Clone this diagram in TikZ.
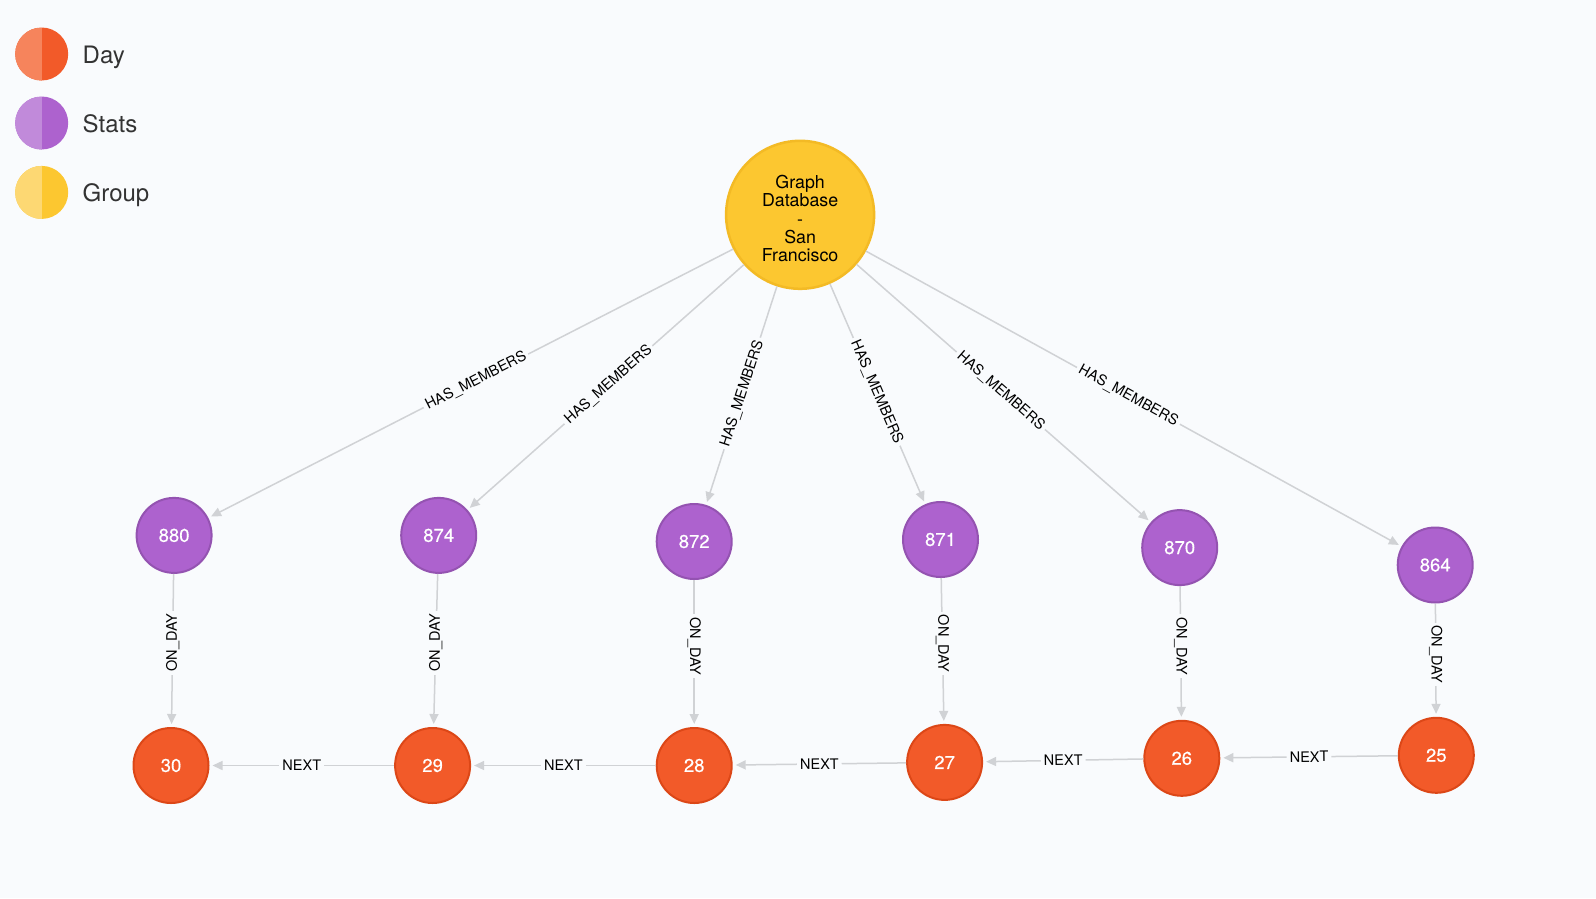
\documentclass[tikz,border=0pt]{standalone}
\usepackage{fontspec}
\setmainfont{TeX Gyre Heros}
\usetikzlibrary{arrows.meta}
\definecolor{bg}{HTML}{F9FBFD}
\definecolor{dayfill}{HTML}{F25A29}
\definecolor{dayline}{HTML}{DC4717}
\definecolor{dayL}{HTML}{F6845C}
\definecolor{statsfill}{HTML}{AD62CE}
\definecolor{statsline}{HTML}{9453B1}
\definecolor{statsL}{HTML}{C18ADA}
\definecolor{groupfill}{HTML}{FCC730}
\definecolor{groupline}{HTML}{F3BA25}
\definecolor{groupL}{HTML}{FDD873}
\definecolor{edgec}{HTML}{D0D2D5}
\definecolor{legtext}{HTML}{333333}
\begin{document}
\begin{tikzpicture}[x=1pt,y=-1pt,
  day/.style={circle,fill=dayfill,draw=dayline,line width=2pt,minimum size=75pt,inner sep=0pt,text=white,font=\fontsize{18.5}{20}\selectfont\addfontfeature{FakeBold=0.4}},
  stats/.style={circle,fill=statsfill,draw=statsline,line width=2pt,minimum size=75pt,inner sep=0pt,text=white,font=\fontsize{18.5}{20}\selectfont\addfontfeature{FakeBold=0.4}},
  group/.style={circle,fill=groupfill,draw=groupline,line width=2.5pt,minimum size=148pt,inner sep=0pt},
  grouptext/.style={align=center,text=black,inner sep=0pt,font=\fontsize{17.8}{18.4}\selectfont},
  rel/.style={draw=edgec,line width=1.5pt,-{Triangle[length=10pt,width=9pt]},shorten >=3pt},
  lbl/.style={fill=bg,inner sep=3pt,text=black,font=\fontsize{14.5}{16}\selectfont},
  legc/.style={circle,minimum size=53pt,inner sep=0pt},
  legt/.style={anchor=base west,text=legtext,font=\fontsize{24}{26}\selectfont,inner sep=0pt},
]
\fill[bg] (0,0) rectangle (1596,898);
\useasboundingbox (0,0) rectangle (1596,898);

% legend
\node[legc,fill=dayfill,path picture={\fill[dayL] (path picture bounding box.north west) rectangle (path picture bounding box.south);}] (legday) at (41.7,54) {};
\node[legc,fill=statsfill,path picture={\fill[statsL] (path picture bounding box.north west) rectangle (path picture bounding box.south);}] (legstats) at (41.7,123) {};
\node[legc,fill=groupfill,path picture={\fill[groupL] (path picture bounding box.north west) rectangle (path picture bounding box.south);}] (leggroup) at (41.7,192.4) {};
\node[legt] (legdayt) at (82.5,63) {Day};
\node[legt] (legstatst) at (82.5,132) {Stats};
\node[legt] (leggroupt) at (82.5,201) {Group};

% nodes
\node[group] (g) at (800.1,214.8) {};
\node[grouptext] (gt) at (800.1,218.6) {Graph\\Database\\-\\San\\Francisco};
\node[stats] (s880) at (174.1,535.4) {880};
\node[stats] (s874) at (438.7,535.4) {874};
\node[stats] (s872) at (694.2,541.5) {872};
\node[stats] (s871) at (940.5,539.5) {871};
\node[stats] (s870) at (1179.7,547.6) {870};
\node[stats] (s864) at (1435.2,565.0) {864};
\node[day] (d30) at (171.0,765.5) {30};
\node[day] (d29) at (432.6,765.5) {29};
\node[day] (d28) at (694.2,765.5) {28};
\node[day] (d27) at (944.6,762.4) {27};
\node[day] (d26) at (1181.8,758.3) {26};
\node[day] (d25) at (1436.3,755.3) {25};

% HAS_MEMBERS
\foreach \s in {s880,s874,s872,s871,s870,s864}
  \draw[rel] (g) -- node[lbl,sloped,pos=0.49] {HAS\_MEMBERS} (\s);

% ON_DAY
\draw[rel] (s880) -- node[lbl,rotate=90,pos=0.45] {ON\_DAY} (d30);
\draw[rel] (s874) -- node[lbl,rotate=90,pos=0.45] {ON\_DAY} (d29);
\draw[rel] (s872) -- node[lbl,rotate=-90,pos=0.45] {ON\_DAY} (d28);
\draw[rel] (s871) -- node[lbl,rotate=-90,pos=0.45] {ON\_DAY} (d27);
\draw[rel] (s870) -- node[lbl,rotate=-90,pos=0.45] {ON\_DAY} (d26);
\draw[rel] (s864) -- node[lbl,rotate=-90,pos=0.45] {ON\_DAY} (d25);

% NEXT
\draw[rel] (d29) -- node[lbl,sloped] {NEXT} (d30);
\draw[rel] (d28) -- node[lbl,sloped] {NEXT} (d29);
\draw[rel] (d27) -- node[lbl,sloped] {NEXT} (d28);
\draw[rel] (d26) -- node[lbl,sloped] {NEXT} (d27);
\draw[rel] (d25) -- node[lbl,sloped] {NEXT} (d26);
\end{tikzpicture}
\end{document}
